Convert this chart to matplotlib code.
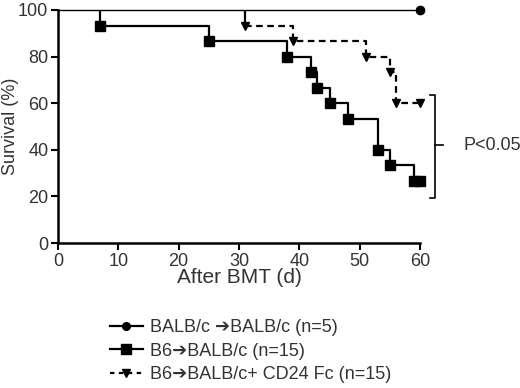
import matplotlib
matplotlib.use("Agg")
import matplotlib.pyplot as plt
from matplotlib.lines import Line2D

# survival data (days, percent)
ctrl_days = [0, 60]
ctrl_surv = [100, 100]

b6_days = [0, 7, 25, 38, 42, 43, 45, 48, 53, 55, 59, 60]
b6_surv = [100, 93.3, 86.7, 80, 73.3, 66.7, 60, 53.3, 40, 33.3, 26.7, 26.7]

cd24_days = [0, 31, 39, 51, 55, 56, 60]
cd24_surv = [100, 93.3, 86.7, 80, 73.3, 60, 60]

labels = ["BALB/c \u2794BALB/c (n=5)",
          "B6\u2794BALB/c (n=15)",
          "B6\u2794BALB/c+ CD24 Fc (n=15)"]

plt.rcParams['font.family'] = ['Liberation Sans', 'DejaVu Sans']
txt = '#333333'

fig = plt.figure(figsize=(5.2, 3.88), dpi=100)
ax = fig.add_axes([58/520, 1 - 243/388, 362/520, 233/388])

# shared 100% segment drawn once, thin
ax.step(ctrl_days, ctrl_surv, where='post', color='black', lw=1.0, clip_on=False)
ax.plot(ctrl_days[1:], ctrl_surv[1:], 'o', color='black', ms=6, clip_on=False)

ax.vlines(b6_days[1], b6_surv[1], b6_surv[0], color='black', lw=1.6)
ax.step(b6_days[1:], b6_surv[1:], where='post', color='black', lw=1.6, clip_on=False)
ax.plot(b6_days[1:], b6_surv[1:], 's', color='black', ms=6.5, clip_on=False)

ax.vlines(cd24_days[1], cd24_surv[1], cd24_surv[0], color='black', lw=1.6)
ax.step(cd24_days[1:], cd24_surv[1:], where='post', color='black', lw=1.6,
        ls=(0, (3, 2)), clip_on=False)
ax.plot(cd24_days[1:], cd24_surv[1:], 'v', color='black', ms=6, clip_on=False)

ax.set_xlim(0, 60)
ax.set_ylim(0, 100)
ax.set_xticks(range(0, 61, 10))
ax.set_yticks(range(0, 101, 20))
for s in ['top', 'right']:
    ax.spines[s].set_visible(False)
for s in ['left', 'bottom']:
    ax.spines[s].set_linewidth(1.8)
ax.tick_params(direction='out', length=5, width=1.5, labelsize=13, labelcolor=txt, pad=2)
ax.set_xlabel('After BMT (d)', fontsize=15, color=txt, labelpad=-1)
ax.set_ylabel('Survival (%)', fontsize=13, color=txt, labelpad=-1)

# significance bracket
bx = 62.5
ax.plot([61.7, bx, bx, 61.7], [63.5, 63.5, 19.5, 19.5], color='black', lw=1.2, clip_on=False)
ax.plot([bx, 63.8], [42, 42], color='black', lw=1.2, clip_on=False)
ax.text(67.2, 42, 'P<0.05', fontsize=13, color=txt, va='center', ha='left', clip_on=False)

handles = [Line2D([], [], color='black', lw=1.6, marker='o', ms=5.5),
           Line2D([], [], color='black', lw=1.6, marker='s', ms=6.5),
           Line2D([], [], color='black', lw=1.6, marker='v', ms=5.5, ls=(0, (2, 2)))]
leg = fig.legend(handles, labels, loc='upper left', bbox_to_anchor=(103/520, 1 - 312/388),
                 frameon=False, fontsize=13, handlelength=1.8, labelspacing=0.35,
                 handletextpad=0.4, borderaxespad=0)
for t in leg.get_texts():
    t.set_color(txt)

fig.savefig('out.png', dpi=100)
